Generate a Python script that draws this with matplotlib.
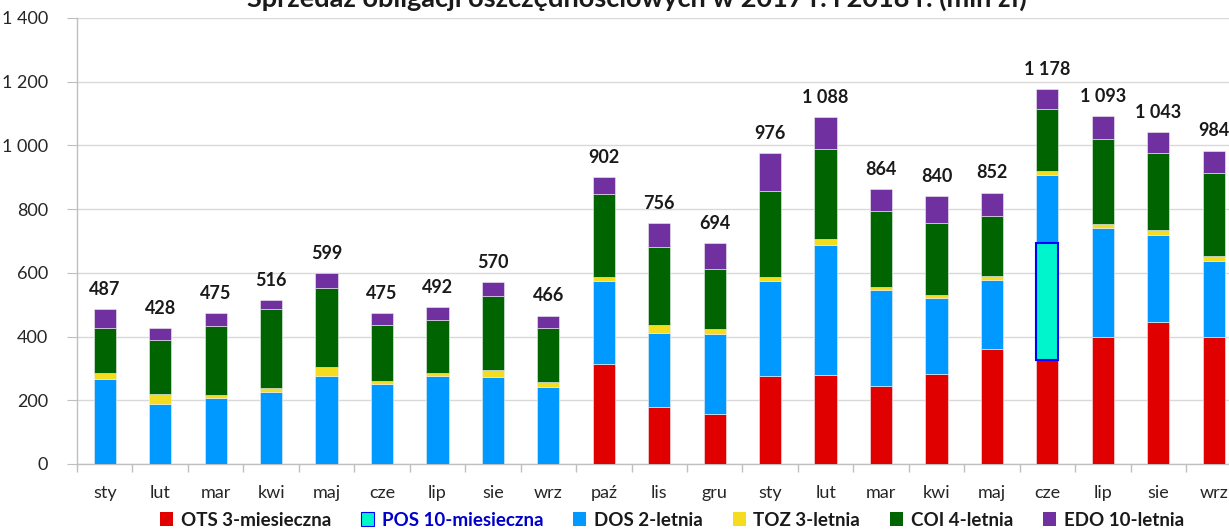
#! /usr/bin/env python3
# Sprzedaz obligacji oszczednosciowych, stacked bars by month
import matplotlib
matplotlib.use('Agg')
import matplotlib.pyplot as plt
import numpy as np
from matplotlib.patches import Patch
from matplotlib.ticker import FuncFormatter, FixedLocator

months = ['sty', 'lut', 'mar', 'kwi', 'maj', 'cze', 'lip', 'sie', 'wrz', 'paź', 'lis', 'gru',
          'sty', 'lut', 'mar', 'kwi', 'maj', 'cze', 'lip', 'sie', 'wrz']

ots = [0, 0, 0, 0, 0, 0, 0, 0, 0, 314, 178, 158, 277, 279, 245, 283, 361, 326, 400, 445, 398]
pos = [0, 0, 0, 0, 0, 0, 0, 0, 0, 0, 0, 0, 0, 0, 0, 0, 0, 369, 0, 0, 0]
dos = [266, 188, 206, 227, 277, 250, 277, 272, 243, 261, 234, 250, 296, 407, 301, 239, 217, 212, 342, 273, 240]
toz = [21, 32, 12, 11, 26, 10, 10, 23, 13, 13, 24, 15, 15, 20, 9, 7, 13, 13, 11, 17, 16]
coi = [139, 168, 216, 248, 249, 177, 165, 232, 171, 259, 246, 188, 268, 282, 239, 227, 188, 194, 266, 240, 259]
edo = [61, 40, 41, 30, 47, 38, 40, 43, 39, 55, 74, 83, 120, 100, 70, 84, 73, 64, 74, 68, 71]

series_names = ['OTS 3-miesieczna', 'POS 10-miesieczna', 'DOS 2-letnia',
                'TOZ 3-letnia', 'COI 4-letnia', 'EDO 10-letnia']
series_colors = ['#E00000', '#00F5CC', '#0099FF', '#F5DC1E', '#006400', '#7030A0']

FONT = ['Lato', 'DejaVu Sans']
plt.rcParams['font.family'] = FONT

fig = plt.figure(figsize=(12.29, 5.30), dpi=100)
W, H = 1229.0, 530.0
ax = fig.add_axes([77 / W, (H - 464) / H, 21 * 55.45 / W, (464 - 18) / H])

x = np.arange(len(months))
width = 0.40
bottom = np.zeros(len(months))
data = [ots, pos, dos, toz, coi, edo]
for vals, color in zip(data, series_colors):
    vals = np.array(vals, dtype=float)
    ax.bar(x, vals, width, bottom=bottom, color=color, edgecolor='#F0F0F0',
           linewidth=0.4, zorder=3)
    bottom += vals

# POS segment has a blue outline
pos_arr = np.array(pos, dtype=float)
ax.bar(x[pos_arr > 0], pos_arr[pos_arr > 0], width, bottom=np.array(ots)[pos_arr > 0],
       color='none', edgecolor='#0000FF', linewidth=1.5, zorder=4)

totals = bottom
for xi, t in zip(x, totals):
    ax.annotate('{:,}'.format(int(t)).replace(',', ' '), (xi, t), xytext=(0, 8),
                textcoords='offset points', ha='center', va='bottom',
                fontsize=13, fontweight='bold', color='#1A1A1A')

ax.set_xlim(-0.5, len(months) - 0.5)
ax.set_ylim(0, 1400)
ax.set_yticks(np.arange(0, 1401, 200))
ax.yaxis.set_major_formatter(FuncFormatter(lambda v, p: '{:,}'.format(int(v)).replace(',', ' ')))
ax.set_xticks(x)
ax.set_xticklabels(months)
ax.xaxis.set_minor_locator(FixedLocator(np.arange(-0.5, len(months), 1.0)))
ax.tick_params(axis='x', which='major', length=0, pad=15, labelsize=13, colors='#262626')
ax.tick_params(axis='x', which='minor', length=6, color='#BFBFBF', width=1)
ax.tick_params(axis='y', length=7, color='#BFBFBF', pad=14, labelsize=13, labelcolor='#262626')

ax.grid(axis='y', color='#D9D9D9', linewidth=1, zorder=0)
ax.set_axisbelow(True)
for s in ['top', 'right']:
    ax.spines[s].set_visible(False)
for s in ['left', 'bottom']:
    ax.spines[s].set_color('#BFBFBF')
    ax.spines[s].set_linewidth(1)

# title is cropped at the top edge in the source image
fig.text(637 / W, 1 - 7 / H, 'Sprzedaż obligacji oszczędnościowych w 2017 r. i 2018 r. (mln zł)',
         ha='center', va='baseline', fontsize=19.5, fontweight='bold', color='#1A1A1A')

handles = [Patch(facecolor=c, edgecolor='#0000FF' if i == 1 else c, linewidth=0.8 if i == 1 else 0)
           for i, c in enumerate(series_colors)]
leg = fig.legend(handles, series_names,
                 loc='center', bbox_to_anchor=(672 / W, 10 / H), ncol=6, frameon=False,
                 handlelength=0.7, handleheight=0.7, handletextpad=0.4, columnspacing=1.6,
                 prop={'weight': 'bold', 'size': 13.5})
for i, t in enumerate(leg.get_texts()):
    t.set_color('#0000CC' if i == 1 else '#1A1A1A')

plt.savefig('out.png', dpi=100)
plt.close(fig)
